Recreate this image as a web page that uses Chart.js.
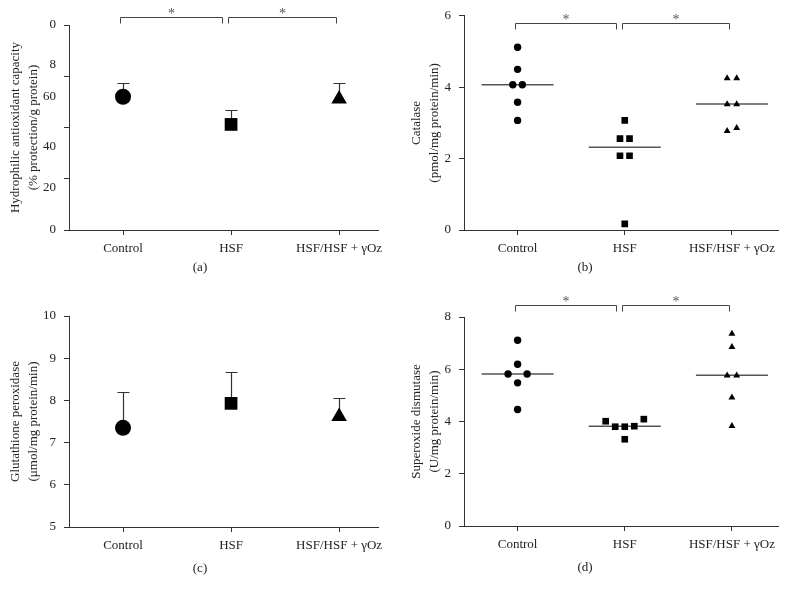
<!DOCTYPE html>
<html>
<head>
<meta charset="utf-8">
<script src="https://cdn.jsdelivr.net/npm/chart.js@4.4.0/dist/chart.umd.min.js"></script>
<style>
  body { margin: 0; background: #fff; }
  #fig { position: relative; width: 797px; height: 595px; font-family: 'Liberation Serif', serif; color: #222; }
  #fig canvas { position: absolute; }
  .cap { position: absolute; font-size: 13px; transform: translate(-50%, -50%); }
</style>
</head>
<body>
<div id="fig">
  <canvas id="chartA" width="398" height="290" style="left:0;top:0"></canvas>
  <canvas id="chartB" width="397" height="290" style="left:400px;top:0"></canvas>
  <canvas id="chartC" width="398" height="305" style="left:0;top:290px"></canvas>
  <canvas id="chartD" width="397" height="305" style="left:400px;top:290px"></canvas>
  <div class="cap" style="left:200px;top:267px">(a)</div>
  <div class="cap" style="left:585px;top:267px">(b)</div>
  <div class="cap" style="left:200px;top:568px">(c)</div>
  <div class="cap" style="left:585px;top:567px">(d)</div>
</div>
<script>
const groups = ['Control', 'HSF', 'HSF/HSF + γOz'];
const markers = ['circle', 'rect', 'triangle'];

// (a) hydrophilic antioxidant capacity - mean and top of error bar
const haMean = [52.0, 41.2, 51.1];
const haTop = [57.2, 46.8, 57.5];
// tick labels are printed off their tick marks in the original
const haTickValues = [0, 16.4, 32.4, 51.9, 64.4, 80];
const haTickLabels = ['0', '20', '40', '60', '8', '0'];
const haTickMarks = [0, 20, 40, 60, 80];

// (c) glutathione peroxidase
const gpxMean = [7.35, 7.93, 7.62];
const gpxTop = [8.21, 8.67, 8.05];

// (b) catalase, one value per animal
const catControl = [5.12, 4.50, 4.07, 4.07, 3.58, 3.07];
const catHSF = [3.07, 2.56, 2.56, 2.08, 2.08, 0.17];
const catOz = [4.25, 4.25, 3.52, 3.52, 2.77, 2.86];
const catMedian = [4.07, 2.32, 3.53];
const catShift = [[0, 0, -0.5, 0.5, 0, 0], [0, -0.5, 0.5, -0.5, 0.5, 0], [-0.5, 0.5, -0.5, 0.5, -0.5, 0.5]];

// (d) superoxide dismutase
const sodControl = [7.11, 6.19, 5.82, 5.82, 5.48, 4.46];
const sodHSF = [4.01, 3.80, 3.80, 3.82, 4.09, 3.32];
const sodOz = [7.36, 6.85, 5.76, 5.76, 4.92, 3.83];
const sodMedian = [5.82, 3.82, 5.77];
const sodShift = [[0, 0, -1, 1, 0, 0], [-2, -1, 0, 1, 2, 0], [0, 0, -0.5, 0.5, 0, 0]];

const serif = "'Liberation Serif', serif";
const ink = '#222';
const axisInk = '#333';

const errorBars = {
  id: 'errorBars',
  beforeDatasetsDraw(chart, args, opts) {
    if (!opts.top) return;
    const { ctx, scales: { x, y } } = chart;
    ctx.save();
    ctx.strokeStyle = axisInk;
    ctx.lineWidth = 1.2;
    opts.top.forEach((t, i) => {
      const px = Math.round(x.getPixelForValue(i)) + 0.5;
      const y0 = y.getPixelForValue(opts.mean[i]);
      const y1 = Math.round(y.getPixelForValue(t)) + 0.5;
      ctx.beginPath();
      ctx.moveTo(px, y0); ctx.lineTo(px, y1);
      ctx.moveTo(px - 6, y1); ctx.lineTo(px + 6, y1);
      ctx.stroke();
    });
    ctx.restore();
  }
};

const brackets = {
  id: 'brackets',
  afterDraw(chart, args, opts) {
    if (opts.y == null) return;
    const { ctx, scales: { x, y } } = chart;
    const by = Math.round(y.getPixelForValue(opts.y)) + 0.5;
    const spans = [[0, 1, -3, -9], [1, 2, -3, -3]];
    ctx.save();
    ctx.strokeStyle = '#444';
    ctx.lineWidth = 1;
    ctx.fillStyle = '#555';
    ctx.font = '14px ' + serif;
    ctx.textAlign = 'center';
    ctx.textBaseline = 'middle';
    spans.forEach(s => {
      const x1 = Math.round(x.getPixelForValue(s[0]) + s[2]) + 0.5;
      const x2 = Math.round(x.getPixelForValue(s[1]) + s[3]) + 0.5;
      ctx.beginPath();
      ctx.moveTo(x1, by + 6); ctx.lineTo(x1, by); ctx.lineTo(x2, by); ctx.lineTo(x2, by + 6);
      ctx.stroke();
      ctx.fillText('*', (x1 + x2) / 2, by - 3);
    });
    ctx.restore();
  }
};

function markerSet(values, shift, g, r) {
  return {
    data: values.map((v, k) => ({ x: g + shift[k] * 0.089, y: v })),
    pointStyle: markers[g],
    pointRadius: r[g],
    pointBorderWidth: 0,
    backgroundColor: '#000',
    borderColor: '#000'
  };
}

function medianSet(m, g) {
  return {
    data: [{ x: g - 0.336, y: m }, { x: g + 0.336, y: m }],
    showLine: true,
    pointRadius: 0,
    borderColor: '#555',
    borderWidth: 1.5
  };
}

function makeChart(id, o) {
  return new Chart(document.getElementById(id), {
    type: 'scatter',
    data: { datasets: o.datasets },
    options: {
      responsive: false,
      animation: false,
      layout: { padding: o.pad },
      plugins: {
        legend: { display: false },
        tooltip: { enabled: false },
        errorBars: o.err || {},
        brackets: { y: o.bracketY }
      },
      scales: {
        x: {
          type: 'linear',
          min: -0.5,
          max: o.xMax,
          afterFit: s => { s.height = o.xH; },
          afterBuildTicks: s => { s.ticks = groups.map((g, i) => ({ value: i })); },
          border: { color: axisInk },
          grid: { drawOnChartArea: false, tickLength: 5, tickColor: axisInk },
          ticks: { callback: v => groups[v], font: { family: serif, size: 13 }, color: ink, padding: 6, maxRotation: 0 }
        },
        y: {
          min: o.yMin,
          max: o.yMax,
          afterFit: s => { s.width = o.yW; },
          afterBuildTicks: o.yTicks,
          border: { color: axisInk },
          grid: { drawOnChartArea: false, tickLength: 5, tickColor: o.tickColor || axisInk },
          ticks: { stepSize: o.step, callback: o.yLabel, font: { family: serif, size: 13 }, color: ink, padding: 8, autoSkip: false },
          title: { display: true, text: o.title, font: { family: serif, size: 13, lineHeight: 1.4 }, color: ink, padding: { top: o.titlePad, bottom: 0 } }
        }
      }
    },
    plugins: [errorBars, brackets]
  });
}

const bigR = [8, 9, 9];
const smallR = [3.7, 4.7, 4];

// (a)
makeChart('chartA', {
  datasets: haMean.map((v, g) => markerSet([v], [0], g, bigR)),
  err: { mean: haMean, top: haTop },
  bracketY: 83,
  pad: { left: 0, top: 25, right: 20, bottom: 0 },
  xMax: 2.36, xH: 60, yW: 69,
  yMin: 0, yMax: 80,
  yTicks: s => { s.ticks = haTickValues.concat(haTickMarks).filter((v, i, a) => a.indexOf(v) === i).sort((a, b) => a - b).map(v => ({ value: v })); },
  yLabel: v => { const i = haTickValues.indexOf(v); return i < 0 ? '' : haTickLabels[i]; },
  tickColor: c => haTickMarks.includes(c.tick && c.tick.value) ? axisInk : 'rgba(0,0,0,0)',
  title: ['Hydrophilic antioxidant capacity', '(% protection/g protein)'],
  titlePad: 6
});

// (b)
makeChart('chartB', {
  datasets: [catControl, catHSF, catOz].map((vals, g) => markerSet(vals, catShift[g], g, smallR))
    .concat(catMedian.map(medianSet)),
  bracketY: 5.79,
  pad: { left: 0, top: 15, right: 19, bottom: 0 },
  xMax: 2.43, xH: 60, yW: 64,
  yMin: 0, yMax: 6, step: 2,
  title: ['Catalase', '(pmol/mg protein/min)'],
  titlePad: 7.5
});

// (c)
makeChart('chartC', {
  datasets: gpxMean.map((v, g) => markerSet([v], [0], g, bigR)),
  err: { mean: gpxMean, top: gpxTop },
  pad: { left: 0, top: 26, right: 20, bottom: 0 },
  xMax: 2.36, xH: 68, yW: 69,
  yMin: 5, yMax: 10, step: 1,
  title: ['Glutathione peroxidase', '(μmol/mg protein/min)'],
  titlePad: 6
});

// (d)
makeChart('chartD', {
  datasets: [sodControl, sodHSF, sodOz].map((vals, g) => markerSet(vals, sodShift[g], g, smallR))
    .concat(sodMedian.map(medianSet)),
  bracketY: 8.45,
  pad: { left: 0, top: 27, right: 19, bottom: 0 },
  xMax: 2.43, xH: 69, yW: 64,
  yMin: 0, yMax: 8, step: 2,
  title: ['Superoxide dismutase', '(U/mg protein/min)'],
  titlePad: 7.5
});
</script>
</body>
</html>
